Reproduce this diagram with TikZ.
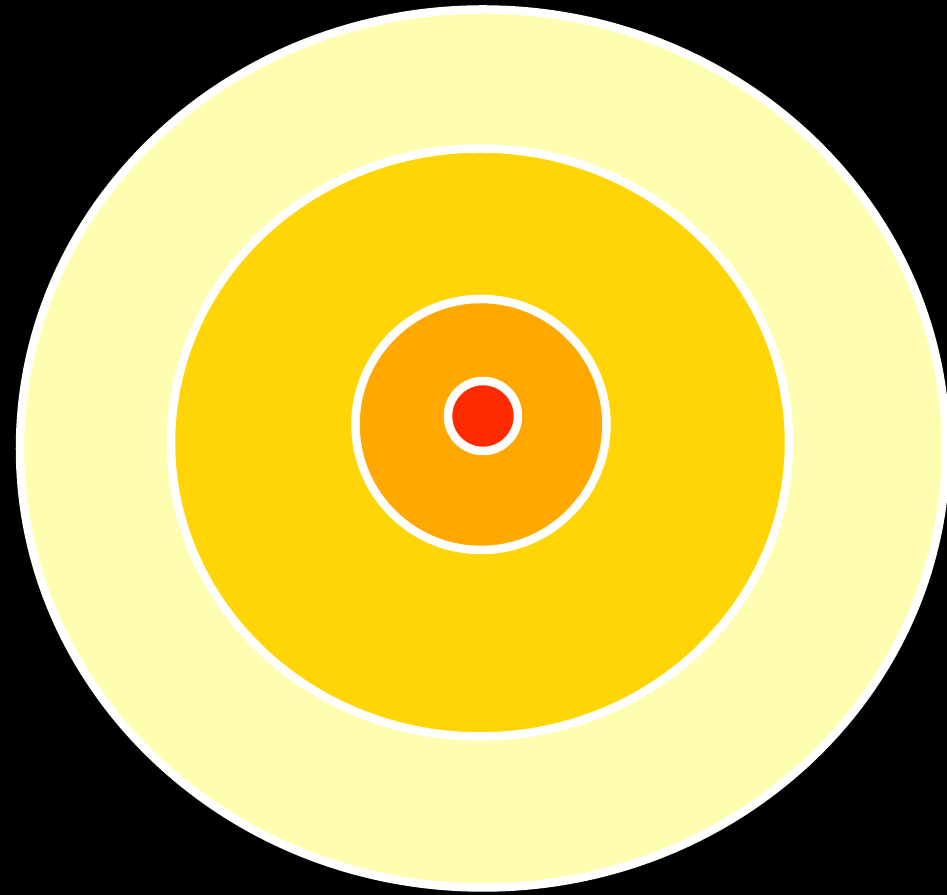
\documentclass[tikz,border=0pt]{standalone}
\definecolor{paleyellow}{HTML}{FFFDB0}
\definecolor{goldring}{HTML}{FFD505}
\definecolor{orangering}{HTML}{FFA800}
\definecolor{redcore}{HTML}{FF2A00}
\tikzset{ring/.style={draw=white,line width=0.085cm}}
\begin{document}
\begin{tikzpicture}[x=0.01cm,y=-0.01cm]
\fill[black] (0,0) rectangle (947,895);
\useasboundingbox (0,0) rectangle (947,895);
\filldraw[ring,fill=paleyellow] (483,448.5) ellipse (463 and 439);
\filldraw[ring,fill=goldring] (480,442.5) ellipse (309 and 294);
\filldraw[ring,fill=orangering] (481,424.5) circle (125.5);
\filldraw[ring,fill=redcore] (483,416) circle (35);
\end{tikzpicture}
\end{document}
